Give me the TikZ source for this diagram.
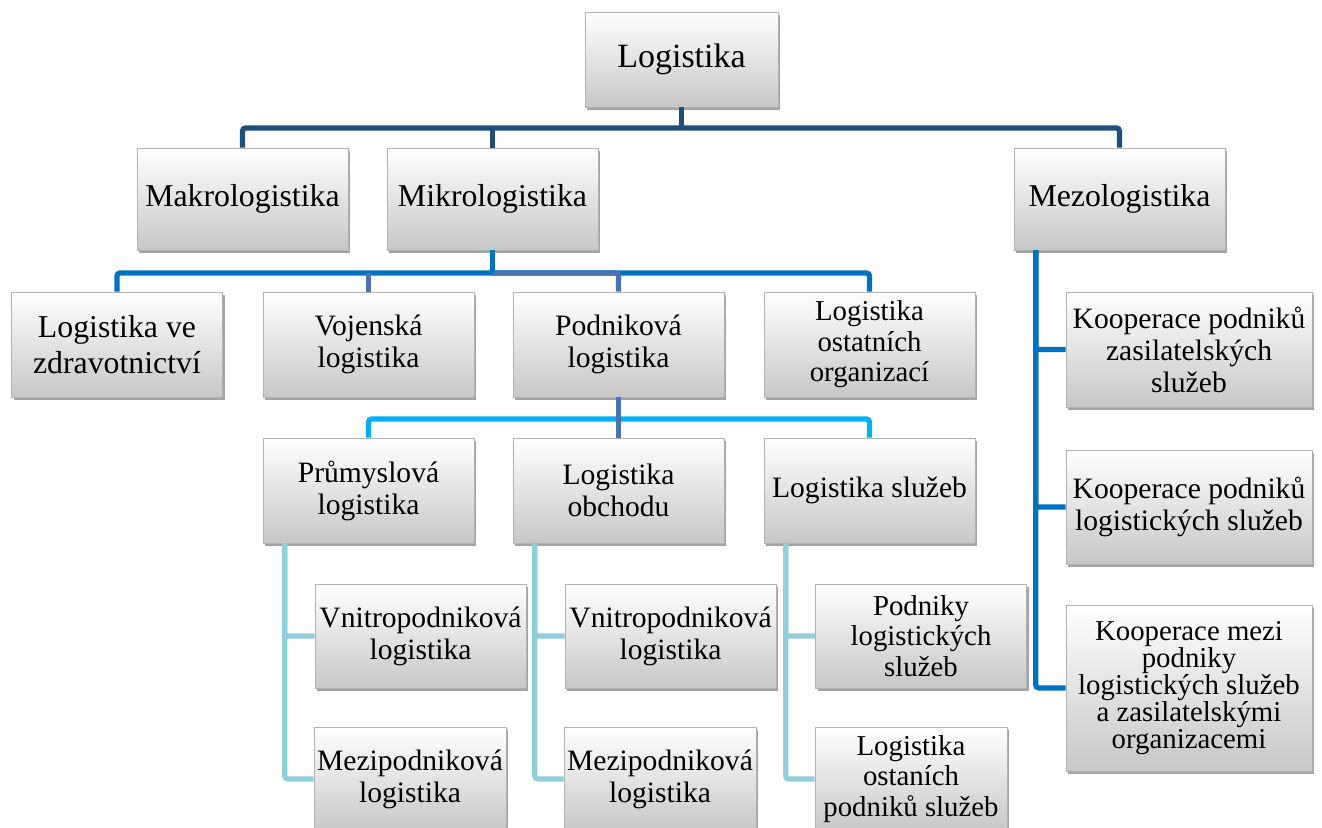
\documentclass[tikz,border=0pt]{standalone}
\usepackage{fontspec}
\setmainfont{Liberation Serif}
\newfontfamily\tms{Liberation Serif}
\usetikzlibrary{shadows}
\definecolor{dkblue}{HTML}{1F4E79}
\definecolor{mdblue}{HTML}{0070C0}
\definecolor{gyblue}{HTML}{4A74B0}
\definecolor{cyblue}{HTML}{00B0F0}
\definecolor{ltblue}{HTML}{92CDDC}
\tikzset{
  box/.style={rectangle, inner sep=0pt, align=center, top color=white, bottom color=black!22,
    draw=black!30, line width=0.3pt,
    drop shadow={shadow xshift=1.2pt, shadow yshift=-1.5pt, opacity=0.45, fill=black!80}},
  fA/.style={font=\tms\fontsize{17}{20}\selectfont},
  fB/.style={font=\tms\fontsize{15.9}{18}\selectfont},
  fC/.style={font=\tms\fontsize{14.8}{16}\selectfont},
  fD/.style={font=\tms\fontsize{14.4}{15.2}\selectfont},
  fE/.style={font=\tms\fontsize{14.4}{13.6}\selectfont},
  wide/.style={minimum width=105.5pt, minimum height=52pt},
  narrow/.style={minimum width=96pt, minimum height=52pt},
  conn/.style={line width=2.6pt, rounded corners=1.5pt},
}
\begin{document}
\begin{tikzpicture}[x=0.5pt,y=-0.5pt]
\useasboundingbox (0,0) rectangle (1322,828);
% nodes
\node[box,fA,minimum width=96.5pt,minimum height=47.5pt] (L0) at (681.5,59.5) {Logistika};
\node[box,fB,minimum width=105.5pt,minimum height=51pt] (makro) at (242.5,199) {Makrologistika};
\node[box,fB,minimum width=105.5pt,minimum height=51pt] (mikro) at (492.5,199) {Mikrologistika};
\node[box,fB,minimum width=105.5pt,minimum height=51pt] (mezo) at (1119.5,199) {Mezologistika};

\node[box,fB,wide,minimum height=52.5pt] (zdrav) at (117,344.5) {Logistika ve\\zdravotnictví};
\node[box,fC,wide,minimum height=52.5pt] (vojen) at (368.5,344.5) {Vojenská\\logistika};
\node[box,fC,wide,minimum height=52.5pt] (podn) at (618.5,344.5) {Podniková\\logistika};
\node[box,fD,wide,minimum height=52.5pt] (ostat) at (869.5,344.5) {Logistika\\ostatních\\organizací};

\node[box,fC,wide,minimum height=52.5pt] (prum) at (368.5,490.5) {Průmyslová\\logistika};
\node[box,fC,wide,minimum height=52.5pt] (obch) at (618.5,490.5) {Logistika\\obchodu};
\node[box,fC,wide,minimum height=52.5pt] (sluz) at (869.5,490.5) {Logistika služeb};

\node[box,fC,wide] (vn1) at (420.5,636) {Vnitropodniková\\logistika};
\node[box,fC,narrow] (mz1) at (410,779) {Mezipodniková\\logistika};
\node[box,fC,wide] (vn2) at (670.5,636) {Vnitropodniková\\logistika};
\node[box,fC,narrow] (mz2) at (660,779) {Mezipodniková\\logistika};
\node[box,fD,wide] (pls) at (921,636) {Podniky\\logistických\\služeb};
\node[box,fD,narrow] (ops) at (911,779) {Logistika\\ostaních\\podniků služeb};

\node[box,fC,minimum width=123pt,minimum height=57.5pt] (k1) at (1189,349.5) {Kooperace podniků\\zasilatelských\\služeb};
\node[box,fC,minimum width=123pt,minimum height=57pt] (k2) at (1189,507) {Kooperace podniků\\logistických služeb};
\node[box,fE,minimum width=123pt,minimum height=83pt] (k3) at (1189,688) {Kooperace mezi\\podniky\\logistických služeb\\a zasilatelskými\\organizacemi};

% coordinates
\coordinate (c1) at (681.5,128);
\coordinate (c2) at (492.5,273);
\coordinate (c3) at (618.5,419);
\coordinate (p1) at ([xshift=11pt]prum.south west);
\coordinate (p2) at ([xshift=11pt]obch.south west);
\coordinate (p3) at ([xshift=11pt]sluz.south west);
\coordinate (m1) at ([xshift=11pt]mezo.south west);

% level 1 connectors
\draw[conn,dkblue] (L0.south) -- (c1);
\draw[conn,dkblue] (makro.north) |- (c1) -| (mezo.north);
\draw[conn,dkblue] (mikro.north) -- (mikro.north |- c1);

% level 2 connectors (Mikro)
\draw[conn,mdblue] (zdrav.north) |- (c2) -| (ostat.north);
\draw[conn,gyblue] (c2) -| (podn.north);
\draw[conn,gyblue] (vojen.north) -- (vojen.north |- c2);
\draw[conn,mdblue] (mikro.south) -- (c2);

% level 3 connectors (Podnikova)
\draw[conn,cyblue] (prum.north) |- (c3) -| (sluz.north);
\draw[conn,gyblue] (podn.south) -- (obch.north);

% leaves
\draw[conn,ltblue] (p1) |- (vn1.west);
\draw[conn,ltblue] (p1) |- (mz1.west);
\draw[conn,ltblue] (p2) |- (vn2.west);
\draw[conn,ltblue] (p2) |- (mz2.west);
\draw[conn,ltblue] (p3) |- (pls.west);
\draw[conn,ltblue] (p3) |- (ops.west);

% mezo
\draw[conn,mdblue] (m1) |- (k1.west);
\draw[conn,mdblue] (m1) |- (k2.west);
\draw[conn,mdblue] (m1) |- (k3.west);
\end{tikzpicture}
\end{document}
